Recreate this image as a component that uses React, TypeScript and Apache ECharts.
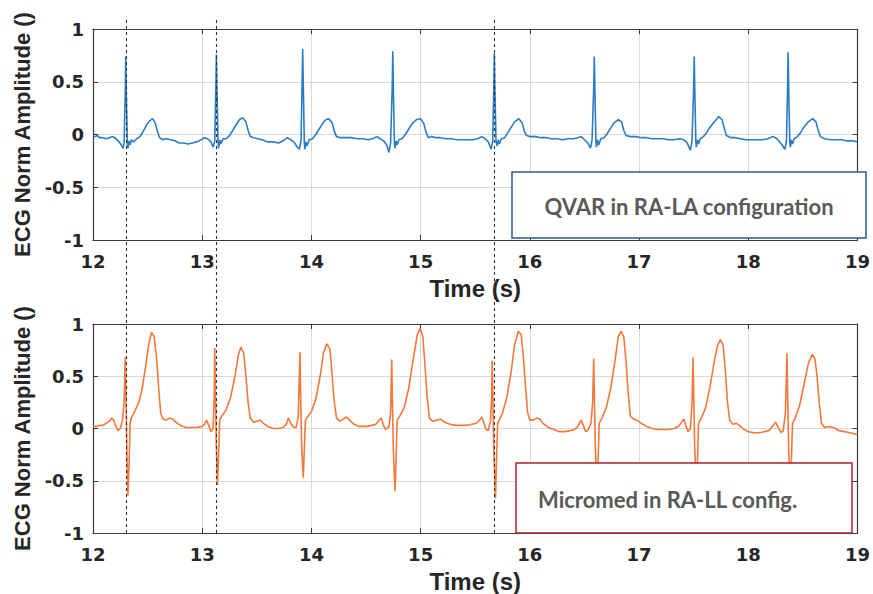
import React, { useEffect, useRef } from "react";
import * as echarts from "echarts";

// ---- Data ----
const xTicks = [12, 13, 14, 15, 16, 17, 18, 19];
const yTicks = [-1, -0.5, 0, 0.5, 1];
const markerTimes = [12.3, 13.13, 15.675];

// QVAR in RA-LA configuration : [time (s), normalized amplitude]
const qvarSignal: [number, number][] = [
  [12.00,-0.01],[12.02,-0.02],[12.04,-0.01],[12.06,-0.03],[12.09,-0.03],[12.12,-0.04],[12.15,-0.03],[12.18,-0.02],[12.20,-0.03],[12.23,-0.06],[12.26,-0.10],[12.275,-0.13],[12.285,-0.08],[12.295,0.40],[12.30,0.74],[12.305,0.40],[12.315,-0.10],[12.32,-0.13],[12.33,-0.06],[12.34,-0.10],[12.35,-0.05],[12.37,-0.07],[12.40,-0.04],[12.43,-0.02],[12.46,0.03],[12.49,0.09],[12.52,0.13],[12.545,0.15],[12.57,0.11],[12.59,0.03],[12.61,-0.03],[12.64,-0.05],[12.67,-0.04],[12.71,-0.05],[12.75,-0.06],[12.79,-0.08],[12.83,-0.08],[12.87,-0.09],[12.91,-0.08],[12.95,-0.07],[12.99,-0.05],[13.02,-0.03],[13.05,-0.04],[13.08,-0.07],[13.10,-0.12],[13.115,-0.06],[13.125,0.45],[13.13,0.76],[13.135,0.45],[13.145,-0.08],[13.15,-0.13],[13.16,-0.05],[13.17,-0.09],[13.19,-0.04],[13.22,-0.04],[13.25,-0.01],[13.28,0.04],[13.31,0.09],[13.34,0.14],[13.37,0.16],[13.40,0.12],[13.42,0.04],[13.44,-0.02],[13.47,-0.03],[13.51,-0.04],[13.55,-0.05],[13.60,-0.07],[13.65,-0.07],[13.70,-0.08],[13.74,-0.06],[13.78,-0.03],[13.81,-0.05],[13.84,-0.07],[13.87,-0.12],[13.89,-0.14],[13.905,-0.05],[13.915,0.50],[13.92,0.81],[13.925,0.50],[13.935,-0.08],[13.94,-0.14],[13.95,-0.07],[13.96,-0.11],[13.98,-0.05],[14.01,-0.04],[14.04,0.0],[14.07,0.05],[14.10,0.10],[14.13,0.14],[14.16,0.15],[14.19,0.11],[14.21,0.03],[14.23,-0.02],[14.27,-0.03],[14.32,-0.03],[14.37,-0.03],[14.42,-0.04],[14.47,-0.04],[14.52,-0.05],[14.56,-0.04],[14.60,-0.02],[14.63,-0.04],[14.66,-0.06],[14.69,-0.10],[14.71,-0.17],[14.725,-0.08],[14.74,0.45],[14.745,0.79],[14.75,0.45],[14.76,-0.08],[14.765,-0.13],[14.775,-0.06],[14.785,-0.10],[14.80,-0.05],[14.83,-0.04],[14.86,0.0],[14.89,0.05],[14.92,0.10],[14.96,0.14],[15.00,0.15],[15.03,0.10],[15.05,0.02],[15.07,-0.03],
  [15.10,-0.02],[15.14,-0.03],[15.18,-0.03],[15.23,-0.04],[15.28,-0.04],[15.33,-0.05],[15.38,-0.05],[15.43,-0.05],[15.48,-0.05],[15.52,-0.04],[15.56,-0.02],[15.59,-0.04],[15.62,-0.07],[15.645,-0.14],[15.66,-0.06],[15.67,0.45],[15.675,0.77],[15.68,0.45],[15.69,-0.06],[15.70,-0.11],[15.71,-0.05],[15.72,-0.09],[15.74,-0.04],[15.77,-0.03],[15.80,0.02],[15.83,0.07],[15.86,0.12],[15.90,0.15],[15.93,0.11],[15.95,0.03],[15.97,-0.01],[16.00,-0.02],[16.05,-0.02],[16.10,-0.03],[16.15,-0.03],[16.20,-0.04],[16.25,-0.04],[16.30,-0.05],[16.35,-0.04],[16.40,-0.04],[16.44,-0.03],[16.47,-0.02],[16.50,-0.05],[16.53,-0.08],[16.555,-0.13],[16.57,-0.05],[16.585,0.45],[16.59,0.74],[16.595,0.45],[16.605,-0.07],[16.61,-0.12],[16.62,-0.05],[16.63,-0.10],[16.65,-0.04],[16.68,-0.03],[16.71,0.01],[16.74,0.06],[16.77,0.11],[16.81,0.14],[16.84,0.12],[16.86,0.04],[16.88,-0.01],[16.92,-0.02],[16.97,-0.02],[17.02,-0.03],[17.07,-0.03],[17.12,-0.04],[17.17,-0.04],[17.22,-0.04],[17.27,-0.05],[17.32,-0.05],[17.37,-0.04],[17.41,-0.05],[17.44,-0.08],[17.47,-0.15],[17.485,-0.06],[17.50,0.45],[17.505,0.74],[17.51,0.45],[17.52,-0.07],[17.525,-0.12],[17.535,-0.05],[17.545,-0.09],[17.56,-0.04],[17.59,-0.02],[17.62,0.02],[17.65,0.07],[17.69,0.12],[17.73,0.17],[17.76,0.14],[17.78,0.06],[17.80,-0.01],[17.84,-0.03],[17.88,-0.03],[17.93,-0.04],[17.98,-0.05],[18.03,-0.05],[18.08,-0.05],[18.13,-0.05],[18.18,-0.04],[18.22,-0.02],[18.25,-0.03],[18.28,-0.06],[18.31,-0.10],[18.335,-0.14],[18.35,-0.06],[18.36,0.45],[18.365,0.78],[18.37,0.45],[18.38,-0.07],[18.385,-0.12],[18.395,-0.05],[18.405,-0.09],[18.42,-0.04],[18.45,-0.02],[18.48,0.02],[18.51,0.07],[18.55,0.12],[18.59,0.15],[18.62,0.12],[18.64,0.04],[18.66,-0.02],[18.70,-0.04],[18.75,-0.05],[18.80,-0.05],[18.85,-0.05],[18.90,-0.06],[18.95,-0.06],[19.00,-0.07],
];

// Micromed in RA-LL configuration : [time (s), normalized amplitude]
const micromedSignal: [number, number][] = [
  [12.00,0.02],[12.03,0.02],[12.06,0.03],[12.09,0.03],[12.12,0.05],[12.15,0.07],[12.17,0.10],[12.19,0.08],[12.21,0.02],[12.23,-0.02],[12.25,0.0],[12.27,0.08],[12.285,0.25],[12.295,0.68],[12.30,0.45],[12.31,-0.20],[12.32,-0.64],[12.33,-0.35],[12.34,0.05],[12.35,0.10],[12.38,0.16],[12.42,0.25],[12.45,0.38],[12.48,0.58],[12.51,0.80],[12.535,0.92],[12.56,0.88],[12.58,0.70],[12.60,0.40],[12.62,0.15],[12.64,0.09],[12.67,0.08],[12.70,0.10],[12.73,0.09],[12.76,0.06],[12.80,0.03],[12.85,0.01],[12.90,0.01],[12.95,0.01],[13.00,0.02],[13.02,0.04],[13.04,0.08],[13.06,0.03],[13.08,-0.03],[13.10,0.0],[13.11,0.30],[13.115,0.77],[13.12,0.40],[13.13,-0.20],[13.14,-0.54],[13.15,-0.25],[13.16,0.08],[13.18,0.12],[13.22,0.18],[13.26,0.30],[13.30,0.50],[13.33,0.70],[13.355,0.78],[13.38,0.72],[13.40,0.50],[13.42,0.25],[13.44,0.10],[13.47,0.06],[13.50,0.07],[13.53,0.08],[13.56,0.05],[13.60,0.02],[13.65,0.0],[13.70,0.0],[13.74,0.01],[13.77,0.04],[13.79,0.10],[13.81,0.05],[13.84,0.01],[13.86,0.01],[13.88,0.12],[13.895,0.73],[13.90,0.40],[13.91,-0.15],[13.925,-0.47],[13.935,-0.20],[13.945,0.08],[13.97,0.12],[14.00,0.16],[14.04,0.28],[14.08,0.50],[14.11,0.72],[14.14,0.81],[14.17,0.76],[14.19,0.50],[14.21,0.25],[14.23,0.10],[14.26,0.07],[14.29,0.09],[14.32,0.11],[14.35,0.08],[14.39,0.04],[14.44,0.02],[14.50,0.02],[14.55,0.03],[14.59,0.04],[14.62,0.08],[14.64,0.10],[14.66,0.03],[14.68,-0.01],[14.71,0.02],[14.725,0.15],[14.735,0.66],[14.74,0.35],[14.75,-0.20],[14.765,-0.60],[14.775,-0.30],[14.785,0.08],[14.81,0.12],[14.85,0.20],[14.89,0.38],[14.93,0.65],[14.97,0.90],[14.995,0.96],[15.02,0.88],[15.04,0.60],[15.06,0.30],[15.08,0.10],
  [15.11,0.07],[15.15,0.08],[15.18,0.09],[15.22,0.06],[15.27,0.04],[15.32,0.03],[15.37,0.03],[15.42,0.03],[15.47,0.04],[15.51,0.05],[15.54,0.08],[15.56,0.11],[15.58,0.05],[15.60,-0.01],[15.62,-0.02],[15.64,0.08],[15.65,0.30],[15.655,0.65],[15.66,0.40],[15.67,-0.20],[15.685,-0.67],[15.695,-0.30],[15.705,0.05],[15.72,0.08],[15.75,0.15],[15.79,0.30],[15.83,0.55],[15.86,0.80],[15.895,0.93],[15.92,0.90],[15.94,0.70],[15.96,0.40],[15.98,0.15],[16.00,0.08],[16.03,0.08],[16.06,0.10],[16.09,0.09],[16.12,0.05],[16.17,0.01],[16.22,-0.01],[16.27,-0.03],[16.32,-0.03],[16.37,-0.02],[16.41,-0.01],[16.44,0.02],[16.47,0.08],[16.49,0.03],[16.51,-0.03],[16.53,-0.02],[16.56,0.05],[16.575,0.25],[16.585,0.67],[16.59,0.35],[16.60,-0.20],[16.615,-0.60],[16.625,-0.30],[16.635,0.05],[16.66,0.10],[16.70,0.20],[16.74,0.38],[16.78,0.65],[16.81,0.88],[16.835,0.93],[16.86,0.88],[16.88,0.65],[16.90,0.35],[16.92,0.12],[16.95,0.09],[16.98,0.08],[17.02,0.05],[17.07,0.02],[17.12,0.0],[17.17,-0.01],[17.22,-0.01],[17.27,-0.01],[17.32,0.0],[17.36,0.02],[17.39,0.06],[17.41,0.09],[17.43,0.02],[17.45,-0.03],[17.47,0.0],[17.485,0.25],[17.495,0.68],[17.50,0.35],[17.51,-0.20],[17.525,-0.60],[17.535,-0.30],[17.545,0.05],[17.57,0.10],[17.61,0.20],[17.65,0.40],[17.69,0.65],[17.72,0.80],[17.745,0.85],[17.77,0.80],[17.79,0.55],[17.81,0.25],[17.83,0.08],[17.86,0.04],[17.89,0.05],[17.92,0.03],[17.96,-0.01],[18.00,-0.03],[18.05,-0.04],[18.10,-0.04],[18.15,-0.03],[18.19,-0.02],[18.22,0.02],[18.25,0.06],[18.27,0.02],[18.30,-0.04],[18.32,-0.02],[18.34,0.15],[18.355,0.72],[18.36,0.35],[18.37,-0.20],[18.385,-0.60],[18.395,-0.30],[18.405,0.05],[18.43,0.10],[18.47,0.22],[18.51,0.42],[18.55,0.62],[18.585,0.71],[18.61,0.67],[18.63,0.50],[18.65,0.25],[18.67,0.05],[18.70,0.01],[18.74,0.02],[18.78,0.01],[18.83,-0.02],[18.88,-0.03],[18.93,-0.04],[18.97,-0.05],[19.00,-0.06],
];

const boxLabels = ["QVAR in RA-LA configuration", "Micromed in RA-LL config."];
const xAxisName = "Time (s)";
const yAxisName = "ECG Norm Amplitude ()";

// ---- Styles ----
const TXT = "#262626";
const AXIS = "#3a3a3a";
const GRIDLINE = "#d9d9d9";
const BLUE = "#2b7dc3";
const ORANGE = "#f5773a";

export default function App() {
  const ref = useRef<HTMLDivElement>(null);

  useEffect(() => {
    document.body.style.margin = "0";
    const chart = echarts.init(ref.current!, null, { renderer: "svg" });

    const labelStyle = { fontFamily: "DejaVu Sans", fontWeight: "bold" as const, fontSize: 18, color: TXT };
    const edgeLine = { show: true, onZero: false, lineStyle: { color: AXIS, width: 1.2 } };
    const tick = { show: true, inside: true, length: 5, lineStyle: { color: AXIS } };
    const mainX = (grid: number) => ({
      type: "value", gridIndex: grid, min: xTicks[0], max: xTicks[xTicks.length - 1], interval: 1,
      position: "bottom",
      axisLine: edgeLine, axisTick: tick,
      axisLabel: { ...labelStyle, margin: 12 },
      splitLine: { show: true, lineStyle: { color: GRIDLINE, width: 1 } },
      name: xAxisName, nameLocation: "middle", nameGap: 36,
      nameTextStyle: { fontFamily: "Liberation Sans", fontWeight: "bold", fontSize: 24, color: TXT },
    });
    const topX = (grid: number) => ({
      type: "value", gridIndex: grid, min: xTicks[0], max: xTicks[xTicks.length - 1], interval: 1,
      position: "top",
      axisLine: edgeLine, axisTick: tick,
      axisLabel: { show: false }, splitLine: { show: false },
    });
    const mainY = (grid: number) => ({
      type: "value", gridIndex: grid, min: yTicks[0], max: yTicks[yTicks.length - 1], interval: 0.5,
      position: "left",
      axisLine: edgeLine, axisTick: tick,
      axisLabel: { ...labelStyle, margin: 9 },
      splitLine: { show: true, lineStyle: { color: GRIDLINE, width: 1 } },
      name: yAxisName, nameLocation: "middle", nameGap: 54,
      nameTextStyle: { fontFamily: "Liberation Sans", fontWeight: "bold", fontSize: 22, color: TXT },
    });
    const rightY = (grid: number) => ({
      type: "value", gridIndex: grid, min: yTicks[0], max: yTicks[yTicks.length - 1], interval: 0.5,
      position: "right",
      axisLine: edgeLine, axisTick: tick,
      axisLabel: { show: false }, splitLine: { show: false },
    });

    chart.setOption({
      animation: false,
      backgroundColor: "#ffffff",
      grid: [
        { left: 93, top: 29, width: 769, height: 211 },
        { left: 93, top: 324, width: 769, height: 209 },
      ],
      xAxis: [mainX(0), topX(0), mainX(1), topX(1)],
      yAxis: [mainY(0), rightY(0), mainY(1), rightY(1)],
      series: [
        {
          type: "line", xAxisIndex: 0, yAxisIndex: 0, data: qvarSignal, showSymbol: false,
          lineStyle: { color: BLUE, width: 1.6 }, z: 3,
        },
        {
          type: "line", xAxisIndex: 2, yAxisIndex: 2, data: micromedSignal, showSymbol: false,
          lineStyle: { color: ORANGE, width: 1.6 }, z: 3,
        },
      ],
    });

    // dashed markers spanning both panels, placed through the axes' scales
    const yTopPx = chart.convertToPixel({ yAxisIndex: 0 }, yTicks[yTicks.length - 1]) as number;
    const yBotPx = chart.convertToPixel({ yAxisIndex: 2 }, yTicks[0]) as number;
    const markers = markerTimes.map((t) => {
      const x = Math.round(chart.convertToPixel({ xAxisIndex: 0 }, t) as number) + 0.5;
      return {
        type: "line", z: 50, silent: true,
        shape: { x1: x, y1: yTopPx - 9, x2: x, y2: yBotPx },
        style: { stroke: "#333333", lineWidth: 1.1, lineDash: [3, 3] },
      };
    });

    const box = (x: number, y: number, w: number, h: number, stroke: string, label: string, tx: number, align: string) => ({
      type: "group", z: 100,
      children: [
        { type: "rect", z: 100, shape: { x, y, width: w, height: h }, style: { fill: "#ffffff", stroke, lineWidth: 1.5 } },
        {
          type: "text", z: 101, x: tx, y: y + h / 2 + 1,
          style: { text: label, fill: "#595959", fontFamily: "Lato", fontWeight: "bold", fontSize: 22, align, verticalAlign: "middle" },
        },
      ],
    });

    chart.setOption({
      graphic: [
        ...markers,
        box(512, 172, 354, 66, "#2f5597", boxLabels[0], 689, "center"),
        box(516, 463, 336, 70, "#a8252c", boxLabels[1], 538, "left"),
      ],
    });

    return () => chart.dispose();
  }, []);

  return <div ref={ref} style={{ position: "fixed", left: 0, top: 0, width: 873, height: 594 }} />;
}
